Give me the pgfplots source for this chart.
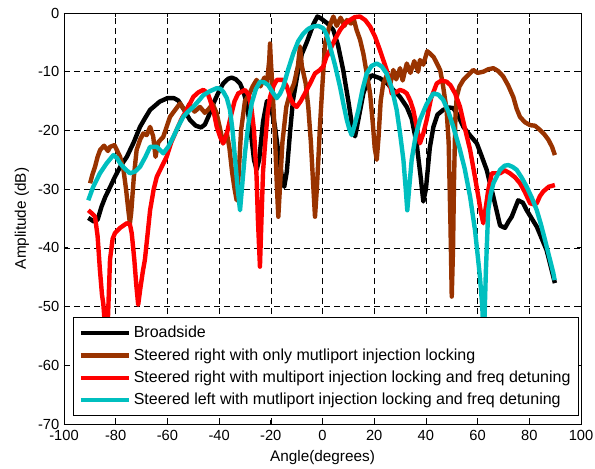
\documentclass[border=0pt]{standalone}
\usepackage{fontspec}
\setmainfont{Liberation Sans}
\usepackage{pgfplots}
\pgfplotsset{compat=1.18}
\definecolor{brn}{HTML}{993300}
\definecolor{cyn}{HTML}{00BFBF}

\begin{document}
\begin{tikzpicture}
\begin{axis}[scale only axis,width=387.75pt,height=308.25pt,
 xmin=-100,xmax=100,ymin=-70,ymax=0,
 xtick={-100,-80,...,100},ytick={-70,-60,...,0},
 grid=major,grid style={black,line width=0.4pt,dash pattern=on 4.5pt off 3pt},
 axis line style={line width=0.6pt},tick style={black,line width=0.6pt},major tick length=3pt,
 tick label style={font=\fontsize{11}{13}\selectfont},
 xticklabel style={yshift=-1pt},
 /pgf/number format/assume math mode=true,
 xlabel={Angle(degrees)},ylabel={Amplitude (dB)},
 every axis x label/.style={at={(rel axis cs:0.5,0)},anchor=center,yshift=-25.5pt,font=\fontsize{11.5}{13}\selectfont},
 every axis y label/.style={at={(rel axis cs:0,0.5)},anchor=center,xshift=-31.5pt,rotate=90,font=\fontsize{11.5}{13}\selectfont},
 legend style={at={(rel axis cs:0.0174,0.0195)},anchor=south west,
   font=\fontsize{12}{14}\selectfont,draw=black,line width=0.6pt,fill=white,
   inner xsep=4pt,inner ysep=4.5pt,row sep=2.6pt},
 legend cell align=left,
 legend image code/.code={\draw[#1] (0pt,0pt) -- (36pt,0pt);},
 every axis plot/.append style={line width=3.3pt,line join=round},
]
% Broadside
\addplot[black] coordinates {(-90.6,-34.9) (-88.5,-35.5) (-87,-35.2) (-85.5,-33) (-84,-31.3) (-82,-29.5) (-80.3,-27.9) (-78,-26) (-75.7,-24.5) (-73,-22) (-70.6,-19.4) (-68.5,-17.8) (-66.7,-16.5) (-63,-15.1) (-60,-14.5) (-57.5,-14.5) (-55.8,-14.9) (-53.5,-16.5) (-51.3,-18.2) (-49,-19.2) (-47,-19.5) (-45.5,-19) (-44,-17.5) (-42.2,-15.4) (-40,-13.3) (-38.4,-12) (-36.5,-11.2) (-35.1,-11) (-33.5,-11.3) (-31.9,-12) (-30.5,-13.5) (-29.3,-15.4) (-27.8,-20) (-26.5,-25) (-25.5,-26.7) (-24.5,-25) (-23,-18.5) (-21.5,-15) (-20,-16) (-18.5,-19) (-17,-24) (-15.5,-28.5) (-14.8,-29.6) (-13.8,-27) (-12.5,-20) (-11.4,-14.8) (-9.5,-10) (-8,-7) (-6.1,-5) (-3.6,-2) (-2,-0.6) (-1,-0.8) (0.5,-1.3) (2,-1.8) (4.2,-2.9) (6,-5.5) (8,-9.7) (10,-15) (11.9,-20.5) (12.6,-21) (13.5,-19) (15.8,-13.7) (17.5,-11.5) (19,-10.6) (22.2,-11.1) (25,-12) (27.4,-13.1) (30,-14.3) (32.6,-16) (34.5,-18) (36.4,-22.2) (38,-28) (39,-32.1) (40,-30) (41.5,-23) (42.9,-19.4) (44.5,-17.3) (46.7,-16.5) (49,-16.1) (50.6,-16.2) (52.5,-17.5) (54.5,-19.4) (57,-20.8) (59.7,-22.2) (61.5,-24.3) (63.5,-26.7) (66.1,-31.3) (68.7,-36.2) (70.6,-36.6) (72,-35.5) (73.2,-34.7) (75.7,-31.9) (77.5,-32.3) (79,-33.6) (82.9,-36.4) (86.7,-40.4) (89.9,-46)};
\addlegendentry{Broadside}
% Steered right, injection locking only
\addplot[brn] coordinates {(-89.9,-29) (-89,-27.5) (-88,-26.2) (-87,-24.5) (-86,-23.3) (-84.5,-22.6) (-83,-23.5) (-82.2,-22.8) (-80.5,-22.5) (-79.6,-23.3) (-78.3,-24.5) (-77,-26.7) (-76,-30) (-75,-34) (-74.5,-35.8) (-74,-34) (-73,-28) (-71.9,-23.3) (-70.5,-21.5) (-69.3,-20.5) (-68,-20.8) (-66.7,-19.4) (-65.5,-21) (-64.6,-24.5) (-63.5,-22) (-61.6,-21.1) (-60,-19) (-59,-17.7) (-57,-16.5) (-55.1,-15.4) (-53,-16.8) (-51.5,-15.5) (-49.5,-16.8) (-47.4,-16) (-45.5,-17) (-44.3,-16.5) (-42.5,-15.5) (-41,-17) (-39.5,-20) (-38.5,-22.2) (-37,-20.5) (-36,-23) (-35,-27) (-34,-30) (-33.2,-31.9) (-32.5,-28) (-31.5,-20) (-30,-15) (-28.5,-14) (-27,-12.5) (-25.5,-11.4) (-24,-12.5) (-22.5,-11) (-21.5,-12) (-20.6,-8) (-20.3,-5.2) (-20,-8) (-19.2,-14) (-18.3,-22) (-17.6,-30) (-17.1,-34.7) (-16.5,-30) (-15.5,-22) (-14,-16) (-12.6,-13.7) (-11,-12) (-9.5,-9) (-8.7,-5.7) (-8,-9) (-6.5,-12) (-5.5,-16) (-4.5,-22) (-3.5,-30) (-2.9,-34.7) (-2.2,-30) (-1.5,-24) (-1,-19.4) (0,-12) (1,-5.1) (2.5,-2.5) (4.2,-0.6) (5.5,-2.2) (7,-0.8) (8.5,-2.2) (9.4,-1.2) (11,-1.8) (12,-0.9) (13.2,-2.9) (14.5,-4.5) (15.8,-6.9) (17,-10) (18.4,-13.7) (19.5,-19) (20.2,-23) (21,-25) (21.7,-21) (22.5,-15) (23.5,-12) (25,-10.5) (26,-12.5) (27.4,-9.7) (28.5,-11.3) (30,-9.4) (31,-11.5) (32.6,-8.6) (34,-10.2) (35.5,-8.2) (37,-10) (37.7,-8) (39,-8.8) (40.5,-6.5) (41.6,-6.9) (43,-7.5) (44.5,-8.8) (45.5,-9.7) (46.5,-12) (47.5,-15) (48,-16.5) (48.8,-22) (49.5,-36) (50,-48.3) (50.5,-40) (50.9,-28) (51.4,-18) (51.9,-14.3) (53,-12.5) (54.5,-11.4) (56.5,-10.5) (58.3,-9.7) (60,-10.2) (62.2,-10) (64,-9.6) (66.1,-9.4) (68,-9.9) (69.9,-10.8) (71.8,-12.3) (73.8,-14.3) (75.1,-16.3) (76.4,-17.7) (78.3,-18.6) (80.3,-19.1) (82.2,-19.2) (84.1,-19.9) (85.7,-20.6) (87.4,-21.6) (88.8,-22.8) (89.9,-24.2)};
\addlegendentry{Steered right with only mutliport injection locking}
% Steered right with detuning
\addplot[red] coordinates {(-90.6,-33.6) (-89,-34.2) (-88,-34.7) (-87,-38) (-86.1,-43.8) (-85.3,-48) (-84.8,-49.5) (-84.2,-53) (-83.6,-56) (-83,-52) (-82.2,-42) (-81.2,-38.5) (-80.3,-37.5) (-78.3,-36.6) (-75.7,-35.8) (-74.5,-36) (-73.8,-37.5) (-72.8,-42) (-72,-46.5) (-71.3,-49.7) (-70.5,-47) (-69.5,-44) (-68.7,-42) (-67.5,-37) (-66.7,-33.6) (-65.3,-30) (-64.1,-27.9) (-62,-26) (-60.3,-24.5) (-58.5,-22) (-56.4,-19.9) (-54.5,-18) (-52.5,-16.5) (-50,-14.3) (-48,-13.5) (-46.1,-13.1) (-44.5,-13.6) (-43.5,-14.8) (-42,-17) (-40.9,-19.4) (-39.5,-21.2) (-38.4,-22.2) (-37,-20.5) (-35.8,-18.2) (-34,-15) (-32.6,-13.7) (-30,-13.1) (-28.5,-14) (-27.4,-16.5) (-26.5,-20) (-25.5,-27.9) (-25,-35) (-24.2,-43.2) (-23.6,-35) (-23,-27) (-22.2,-22.2) (-21.2,-17) (-20.3,-14.3) (-19,-12.5) (-17.7,-11.4) (-15.2,-11.4) (-13.8,-12.5) (-12.6,-14.3) (-11.3,-15.5) (-10,-16) (-8.4,-15) (-6.8,-13.7) (-4.8,-12) (-2.9,-10.3) (-1,-9.7) (0.3,-9.1) (1.5,-7.5) (2.9,-6.3) (4.8,-4.5) (6.8,-2.9) (8.7,-1.8) (10.6,-1.2) (12.5,-0.7) (14.5,-0.6) (16.5,-1.2) (18.4,-2.3) (20.3,-4) (22.2,-6.3) (23.5,-8) (24.8,-9.7) (25.8,-11.5) (26.8,-13.7) (28.5,-13.5) (30,-13.1) (31.3,-13.3) (32.6,-13.7) (34,-15) (35.1,-16.5) (36.5,-19.5) (37.7,-22.2) (39,-20.5) (40.3,-18.2) (42,-14.5) (44.2,-12) (46,-11.5) (48,-11.7) (49.5,-12.3) (51.3,-13.7) (53.2,-16) (55,-19.5) (57.1,-23.3) (58.8,-27.5) (60.3,-31.3) (61.3,-34) (62.2,-35.8) (63.2,-33) (64.1,-30.2) (65.5,-27.3) (68.7,-27.3) (70.5,-26.8) (72.5,-27.3) (74.5,-28) (76.4,-29) (78.3,-30.5) (80.3,-32.4) (81.6,-32.6) (82.9,-32.4) (84.1,-31.2) (85.4,-30.4) (87.5,-29.6) (89.9,-29.3)};
\addlegendentry{Steered right with multiport injection locking and freq detuning}
% Steered left with detuning
\addplot[cyn] coordinates {(-90.6,-31.9) (-88.7,-29.6) (-86.1,-27.3) (-83.5,-25.6) (-80.9,-24.2) (-79.5,-24.7) (-78.3,-25.6) (-76.5,-26.5) (-74.5,-27.3) (-72.5,-27) (-70.6,-26.2) (-68.5,-24.5) (-66.7,-22.8) (-64.1,-22.8) (-61.6,-23.9) (-59.7,-22.8) (-57.7,-21.1) (-55.8,-19.3) (-53.9,-17.7) (-52,-16.8) (-50,-16) (-48,-15) (-46.1,-14) (-43.5,-13.3) (-40.9,-12.8) (-39.5,-12.9) (-38.4,-13.4) (-37,-14.5) (-35.8,-16.5) (-34.8,-20) (-33.8,-25) (-32.8,-30) (-31.9,-33.6) (-31,-29) (-30,-23.9) (-28.7,-19) (-27.4,-15.4) (-25.8,-13) (-24.2,-11.7) (-22.6,-11.8) (-21,-12.3) (-19.3,-13.5) (-17.7,-14.5) (-16.5,-13.8) (-15.2,-12.6) (-13.2,-9.5) (-11.3,-6.9) (-9.4,-4.8) (-7.4,-3.5) (-5.5,-2.7) (-3.6,-2.3) (-1.6,-2.2) (0.3,-2.6) (1.6,-3.7) (2.9,-5.7) (4.8,-8.8) (6.8,-12.6) (8.1,-15.5) (9.4,-18.2) (10.4,-19.8) (11.3,-20.8) (12.5,-19) (13.9,-16.5) (15.5,-13) (17.1,-10.3) (19,-9) (21,-8.6) (22.9,-9.1) (24.8,-10.3) (26.8,-12.8) (28.7,-16.5) (30,-20.5) (31.3,-25) (32.2,-30) (32.8,-33.6) (33.5,-30) (34.5,-25) (36,-21) (37.7,-18.2) (40.3,-15.5) (42.9,-13.7) (44.8,-13.9) (46.7,-14.8) (48.7,-16.8) (50.6,-19.4) (53,-23) (55,-26.5) (57.1,-31.3) (59,-37) (60.9,-44.9) (61.8,-50) (62.4,-56) (63.2,-44) (64.1,-33.6) (65,-31) (66.1,-29) (68.7,-26.7) (70.5,-26) (71.9,-25.9) (73.5,-26.2) (75.1,-26.7) (77,-28) (79,-29.6) (81,-31.5) (82.9,-33.6) (84.5,-36) (86.1,-38.7) (87.7,-41.5) (89.3,-44.3) (89.8,-45.5)};
\addlegendentry{Steered left with mutliport injection locking and freq detuning}
\end{axis}
\pgfresetboundingbox
\path ([xshift=-48pt,yshift=-33pt]current axis.south west) rectangle ([xshift=10.5pt,yshift=9.75pt]current axis.north east);
\end{tikzpicture}
\end{document}
